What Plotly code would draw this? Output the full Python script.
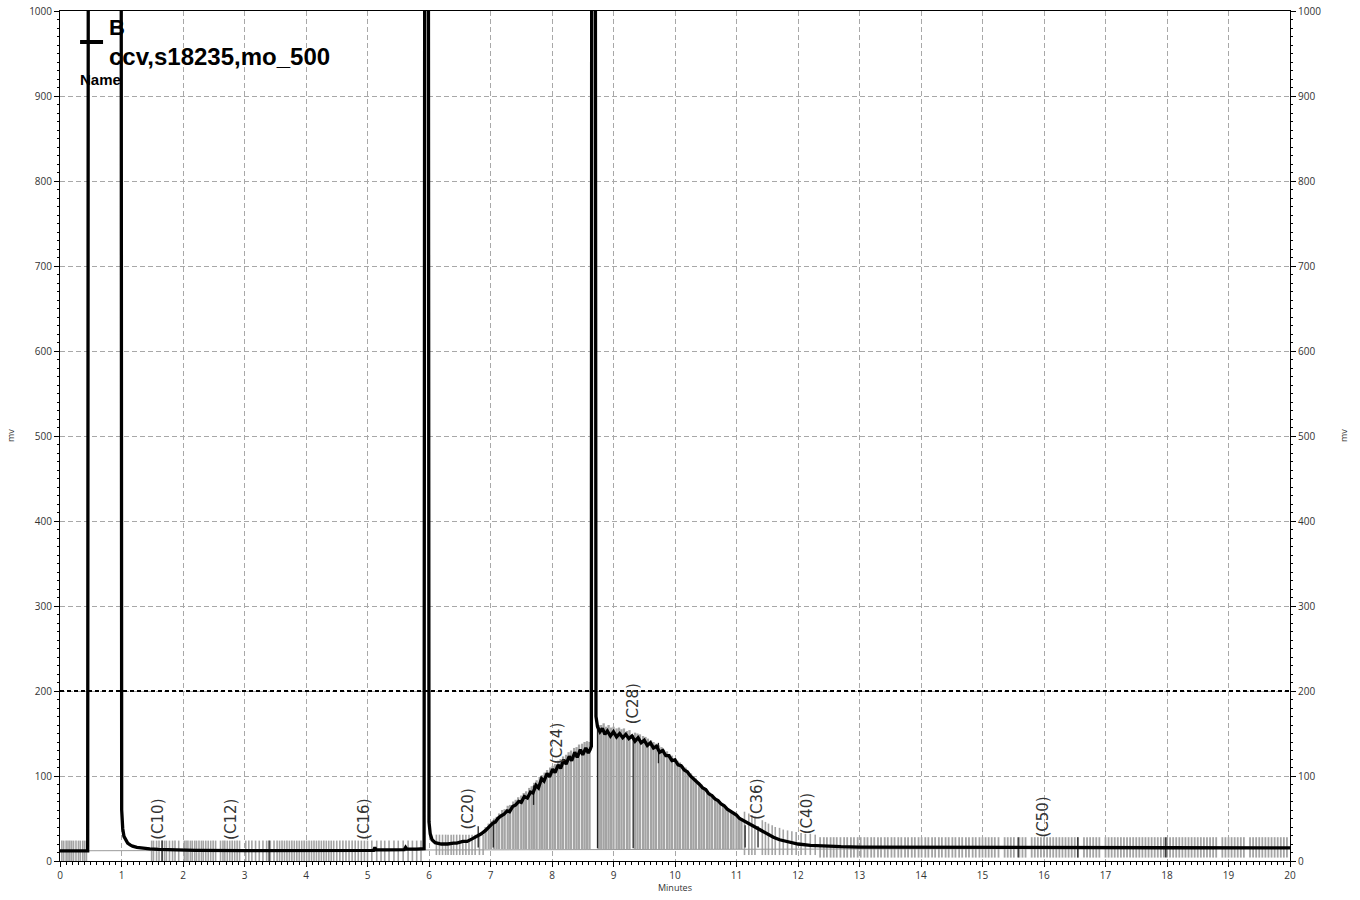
import plotly.graph_objects as go

# chromatogram trace (minutes, mV); 1100 = off scale
signal_t = [0.0, 0.45, 0.46, 0.995, 1.003, 1.01, 1.02, 1.04, 1.07, 1.1, 1.14, 1.18, 1.25, 1.35, 1.46,
            1.6, 1.8, 2.2, 3.0, 4.0, 5.0, 5.1, 5.12, 5.14, 5.3, 5.6, 5.62, 5.64, 5.8, 5.92,
            5.93, 5.99, 6.0, 6.02, 6.05, 6.1, 6.2, 6.3, 6.4, 6.45, 6.55, 6.62, 6.7, 6.78, 6.85,
            6.92, 6.98, 7.03, 7.08, 7.12, 7.17, 7.22, 7.27, 7.31, 7.36, 7.41, 7.46, 7.5, 7.55,
            7.6, 7.65, 7.69, 7.74, 7.78, 7.83, 7.87, 7.92, 7.96, 8.01, 8.05, 8.1, 8.14, 8.19,
            8.23, 8.28, 8.32, 8.37, 8.41, 8.46, 8.5, 8.55, 8.59, 8.62, 8.64,
            8.645, 8.705, 8.715, 8.74, 8.78, 8.82, 8.86, 8.9, 8.95, 9.0, 9.05, 9.1, 9.15, 9.2,
            9.25, 9.3, 9.35, 9.4, 9.45, 9.5, 9.55, 9.6, 9.65, 9.7, 9.75, 9.8, 9.85, 9.9, 9.95,
            10.0, 10.05, 10.1, 10.15, 10.2, 10.25, 10.3, 10.35, 10.4, 10.45, 10.5, 10.55, 10.6,
            10.65, 10.7, 10.75, 10.8, 10.85, 10.9, 10.95, 11.0, 11.05, 11.1, 11.2, 11.3, 11.4,
            11.5, 11.6, 11.7, 11.8, 11.9, 12.0, 12.2, 12.4, 12.7, 13.0, 14.0, 16.0, 18.0, 20.0]
signal_mv = [12, 12, 1100, 1100, 60, 48, 38, 29, 24, 21, 19, 17.5, 16, 15, 14.3,
             13.6, 13, 12.6, 12.3, 12.3, 12.4, 12.5, 16, 13, 13, 13.5, 16, 14, 14, 14.5,
             1100, 1100, 46, 32, 25, 21.5, 20, 20, 21, 21, 23, 23, 26, 29, 32,
             36, 40, 44, 46, 50, 53, 55, 59, 58, 64, 66, 70, 69, 76,
             74, 81, 80, 89, 86, 97, 94, 103, 99, 108, 104, 113, 109, 119,
             114, 123, 118, 128, 122, 131, 125, 133, 127, 131, 135,
             1100, 1100, 170, 158, 152, 156, 149, 153, 147, 152, 146, 150, 145, 149,
             144, 147, 141, 145, 139, 142, 136, 139, 133, 135, 128, 130, 124, 124, 118,
             119, 113, 112, 107, 105, 100, 97, 93, 90, 86, 84, 79, 77,
             73, 71, 67, 65, 61, 59, 56, 54, 50, 48, 43, 39, 35,
             31, 28, 25, 23, 21, 20, 18.5, 17.5, 16.8, 16.3, 16, 15.8, 15.6, 15.5]

# grey integration baseline
baseline_t = [0, 6.9, 12.3, 20]
baseline_mv = [12, 13.5, 14, 15]

# short grey slice marks on the flat baseline (0..24 mV)
flat_marks_t = [0.03, 0.06, 0.1, 0.13, 0.16, 0.19, 0.22, 0.26, 0.3, 0.33, 0.37, 0.4, 0.43,
                1.49, 1.52, 1.57, 1.61, 1.66, 1.7, 1.73, 1.78, 1.83, 1.87, 1.93, 2.02, 2.05,
                2.08, 2.12, 2.15, 2.19, 2.22, 2.26, 2.3, 2.33, 2.37, 2.41, 2.45, 2.49, 2.53,
                2.61, 2.65, 2.68, 2.72, 2.76, 2.8, 2.84, 2.88, 2.92, 3.02, 3.07, 3.12, 3.18,
                3.24, 3.3, 3.36, 3.42, 3.48, 3.53, 3.57, 3.61, 3.65, 3.69, 3.73, 3.77, 3.81,
                3.85, 3.89, 3.93, 3.97, 4.01, 4.05, 4.09, 4.13, 4.17, 4.21, 4.25, 4.29, 4.33,
                4.37, 4.41, 4.45, 4.5, 4.55, 4.6, 4.65, 4.7, 4.75, 4.8, 4.85, 4.9, 4.95, 5.0,
                5.07, 5.15, 5.22, 5.28, 5.35, 5.43, 5.5, 5.58, 5.66, 5.73, 5.8, 5.87]
flat_lo, flat_hi = 0, 24

# marks after the 6 min peak (7..31 mV)
early_marks_t = [6.12, 6.17, 6.22, 6.27, 6.31, 6.36, 6.4, 6.45, 6.5, 6.55, 6.6, 6.65, 6.7,
                 6.75, 6.82, 6.88]
early_lo, early_hi = 7, 31

# marks under the hump, from the baseline up to the trace
hump_marks_t = [6.92, 6.97, 7.01, 7.06, 7.1, 7.14, 7.19, 7.23, 7.28, 7.32, 7.37, 7.41, 7.45,
                7.5, 7.54, 7.58, 7.63, 7.67, 7.71, 7.75, 7.8, 7.84, 7.88, 7.92, 7.97, 8.01,
                8.05, 8.1, 8.14, 8.18, 8.23, 8.27, 8.31, 8.36, 8.4, 8.44, 8.49, 8.53, 8.57,
                8.61, 8.76, 8.8, 8.84, 8.88, 8.92, 8.96, 9.0, 9.05, 9.09, 9.13, 9.17, 9.22,
                9.26, 9.35, 9.39, 9.43, 9.48, 9.52, 9.56, 9.61, 9.65, 9.69, 9.74, 9.78, 9.82,
                9.87, 9.91, 9.95, 10.0, 10.04, 10.08, 10.13, 10.17, 10.21, 10.26, 10.3, 10.34,
                10.39, 10.43, 10.47, 10.52, 10.56, 10.6, 10.65, 10.69, 10.73, 10.78, 10.82,
                10.86, 10.91, 10.95, 11.0, 11.04, 11.08]
hump_marks_top = [40, 44, 47, 50, 52, 56, 60, 61, 65, 66, 70, 72, 75,
                  77, 80, 82, 86, 88, 92, 95, 99, 101, 104, 107, 110, 112,
                  114, 118, 120, 123, 125, 128, 130, 133, 134, 137, 138, 140, 141,
                  140, 160, 160, 162, 158, 160, 157, 158, 156, 157, 155, 156, 153,
                  154, 151, 150, 149, 147, 146, 144, 142, 140, 138, 136, 134, 131,
                  129, 126, 124, 121, 118, 116, 112, 110, 106, 103, 100, 97,
                  93, 90, 87, 84, 81, 78, 75, 72, 70, 67, 64,
                  62, 59, 57, 54, 52, 50]
hump_lo = 14

# tail of the hump, marks straddle the trace
tail_marks_t = [11.13, 11.2, 11.25, 11.3, 11.42, 11.47, 11.52, 11.58, 11.63, 11.7, 11.76,
                11.83, 11.9, 11.97, 12.05, 12.12, 12.2, 12.28]
tail_marks_top = [58, 56, 54, 52, 48, 46, 44, 42, 40, 39, 37, 36, 35, 34, 33, 32, 32, 31]
tail_lo = 7

# late flat region (4..28 mV)
late_marks_t = [12.36, 12.42, 12.47, 12.53, 12.58, 12.63, 12.69, 12.75, 12.8, 12.86, 12.91,
                12.97, 13.02, 13.08, 13.13, 13.19, 13.24, 13.3, 13.35, 13.41, 13.46, 13.52,
                13.57, 13.63, 13.68, 13.74, 13.79, 13.85, 13.9, 13.96, 14.01, 14.07, 14.12,
                14.18, 14.23, 14.29, 14.34, 14.4, 14.45, 14.51, 14.56, 14.62, 14.67, 14.73,
                14.78, 14.84, 14.89, 14.95, 15.0, 15.05, 15.1, 15.15, 15.2, 15.26, 15.36,
                15.41, 15.46, 15.51, 15.6, 15.65, 15.7, 15.8, 15.85, 15.9, 15.95, 16.0, 16.05,
                16.1, 16.15, 16.2, 16.25, 16.3, 16.35, 16.4, 16.45, 16.5, 16.55, 16.65, 16.7,
                16.75, 16.8, 16.85, 16.9, 17.0, 17.05, 17.1, 17.15, 17.2, 17.25, 17.3, 17.35,
                17.4, 17.45, 17.5, 17.55, 17.6, 17.65, 17.7, 17.75, 17.8, 17.85, 17.9, 17.95,
                18.0, 18.05, 18.1, 18.15, 18.2, 18.25, 18.3, 18.35, 18.4, 18.45, 18.5, 18.55,
                18.6, 18.65, 18.7, 18.75, 18.8, 18.9, 18.95, 19.0, 19.05, 19.1, 19.15, 19.2,
                19.25, 19.35, 19.4, 19.45, 19.5, 19.55, 19.6, 19.65, 19.7, 19.75, 19.8, 19.85,
                19.9, 19.95]
late_lo, late_hi = 4, 28

# darker slice marks
dark_marks_t = [1.66, 3.4, 6.8, 7.045, 7.7, 8.74, 9.32, 9.73, 11.14, 11.35, 15.58, 16.55, 17.98]
dark_marks_lo = [0, 0, 16, 16, 66, 15, 15, 115, 16, 16, 4, 4, 4]
dark_marks_hi = [24, 24, 41, 48, 89, 158, 148, 139, 42, 41, 28, 28, 28]

# peak labels
label_text = ["(C10)", "(C12)", "(C16)", "(C20)", "(C24)", "(C28)", "(C36)", "(C40)", "(C50)"]
label_t = [1.6, 2.79, 4.95, 6.64, 8.07, 9.31, 11.33, 12.16, 15.98]
label_mv = [49, 49, 49, 61, 138, 185, 73, 56, 52]

threshold_mv = 200


def segments(times, lo, hi):
    xs, ys = [], []
    for i, t in enumerate(times):
        low = lo[i] if isinstance(lo, list) else lo
        high = hi[i] if isinstance(hi, list) else hi
        xs += [t, t, None]
        ys += [low, high, None]
    return xs, ys


fig = go.Figure()

grey = "#a4a4a4"
for times, lo, hi, w in [(flat_marks_t, flat_lo, flat_hi, 1.6),
                         (early_marks_t, early_lo, early_hi, 1.6),
                         (hump_marks_t, hump_lo, hump_marks_top, 2.3),
                         (tail_marks_t, tail_lo, tail_marks_top, 1.6),
                         (late_marks_t, late_lo, late_hi, 1.8)]:
    xs, ys = segments(times, lo, hi)
    fig.add_trace(go.Scatter(x=xs, y=ys, mode="lines", line=dict(color=grey, width=w),
                             hoverinfo="skip", showlegend=False))

fig.add_trace(go.Scatter(x=baseline_t, y=baseline_mv, mode="lines",
                         line=dict(color="#9a9a9a", width=1), hoverinfo="skip", showlegend=False))

xs, ys = segments(dark_marks_t, dark_marks_lo, dark_marks_hi)
fig.add_trace(go.Scatter(x=xs, y=ys, mode="lines", line=dict(color="#222", width=1.3),
                         hoverinfo="skip", showlegend=False))

fig.add_trace(go.Scatter(x=signal_t, y=signal_mv, mode="lines", name="ccv,s18235,mo_500",
                         line=dict(color="black", width=3.3), showlegend=False))

# dashed threshold (on the right axis so it gets drawn)
fig.add_trace(go.Scatter(x=[0, 20], y=[threshold_mv, threshold_mv], mode="lines", yaxis="y2",
                         line=dict(color="black", width=2, dash="4px,3px"),
                         hoverinfo="skip", showlegend=False))

for txt, t, mv in zip(label_text, label_t, label_mv):
    fig.add_annotation(x=t, y=mv, text=txt, textangle=-90, showarrow=False,
                       font=dict(family="DejaVu Sans", size=15, color="#333"))

# legend block top-left
fig.add_shape(type="line", xref="paper", yref="paper", x0=0.0163, x1=0.035, y0=0.9635, y1=0.9635,
              line=dict(color="black", width=4))
fig.add_annotation(xref="paper", yref="paper", x=0.038, y=0.981, xanchor="left", yanchor="middle",
                   text="<b>B</b>", showarrow=False,
                   font=dict(family="Liberation Sans", size=22, color="black"))
fig.add_annotation(xref="paper", yref="paper", x=0.038, y=0.946, xanchor="left", yanchor="middle",
                   text="<b>ccv,s18235,mo_500</b>", showarrow=False,
                   font=dict(family="Liberation Sans", size=24, color="black"))
fig.add_annotation(xref="paper", yref="paper", x=0.015, y=0.919, xanchor="left", yanchor="middle",
                   text="<b>Name</b>", showarrow=False,
                   font=dict(family="Liberation Sans", size=15, color="black"))

# axis titles
fig.add_annotation(xref="paper", yref="paper", x=0, y=0.5, xshift=-50, xanchor="center",
                   yanchor="middle", text="mv", textangle=-90,
                   showarrow=False, font=dict(family="Open Sans", size=9, color="#333"))
fig.add_annotation(xref="paper", yref="paper", x=1, y=0.5, xshift=53, xanchor="center",
                   yanchor="middle", text="mv", textangle=-90,
                   showarrow=False, font=dict(family="Open Sans", size=9, color="#333"))
fig.add_annotation(xref="paper", yref="paper", x=0.5, y=0, yshift=-26, xanchor="center",
                   yanchor="middle", text="Minutes",
                   showarrow=False, font=dict(family="Open Sans", size=9, color="#333"))

tickfont = dict(family="Open Sans", size=10, color="#333")
fig.update_layout(
    width=1360, height=900, autosize=False,
    margin=dict(l=60, r=70, t=11, b=39),
    plot_bgcolor="white", paper_bgcolor="white",
    xaxis=dict(range=[0, 20], dtick=1, tick0=0, ticks="outside", ticklen=5, tickcolor="black",
               minor=dict(dtick=0.1, ticklen=2.5, tickcolor="black", ticks="outside", showgrid=False),
               showline=True, linecolor="black", linewidth=1, mirror=True,
               showgrid=True, gridcolor="#a8a8a8", griddash="5px,3px", gridwidth=1,
               zeroline=False, tickfont=tickfont, automargin=False),
    yaxis=dict(range=[0, 1000], dtick=100, tick0=0, ticks="outside", ticklen=5, tickcolor="black",
               minor=dict(dtick=10, ticklen=2, tickcolor="black", ticks="outside", showgrid=False),
               showline=True, linecolor="black", linewidth=1, mirror=True,
               showgrid=True, gridcolor="#a8a8a8", griddash="5px,3px", gridwidth=1,
               zeroline=False, tickfont=tickfont, automargin=False, ticklabeloverflow="allow"),
    yaxis2=dict(range=[0, 1000], dtick=100, tick0=0, overlaying="y", side="right",
                ticks="outside", ticklen=5, tickcolor="black",
                minor=dict(dtick=10, ticklen=2, tickcolor="black", ticks="outside", showgrid=False),
                showgrid=False, zeroline=False, showline=False, tickfont=tickfont,
                automargin=False, ticklabeloverflow="allow"),
)

# drop the default 8px page margin so the figure fills the window
fig.write_html("out.html", config={"displayModeBar": False},
               post_script="document.body.style.margin='0';")
